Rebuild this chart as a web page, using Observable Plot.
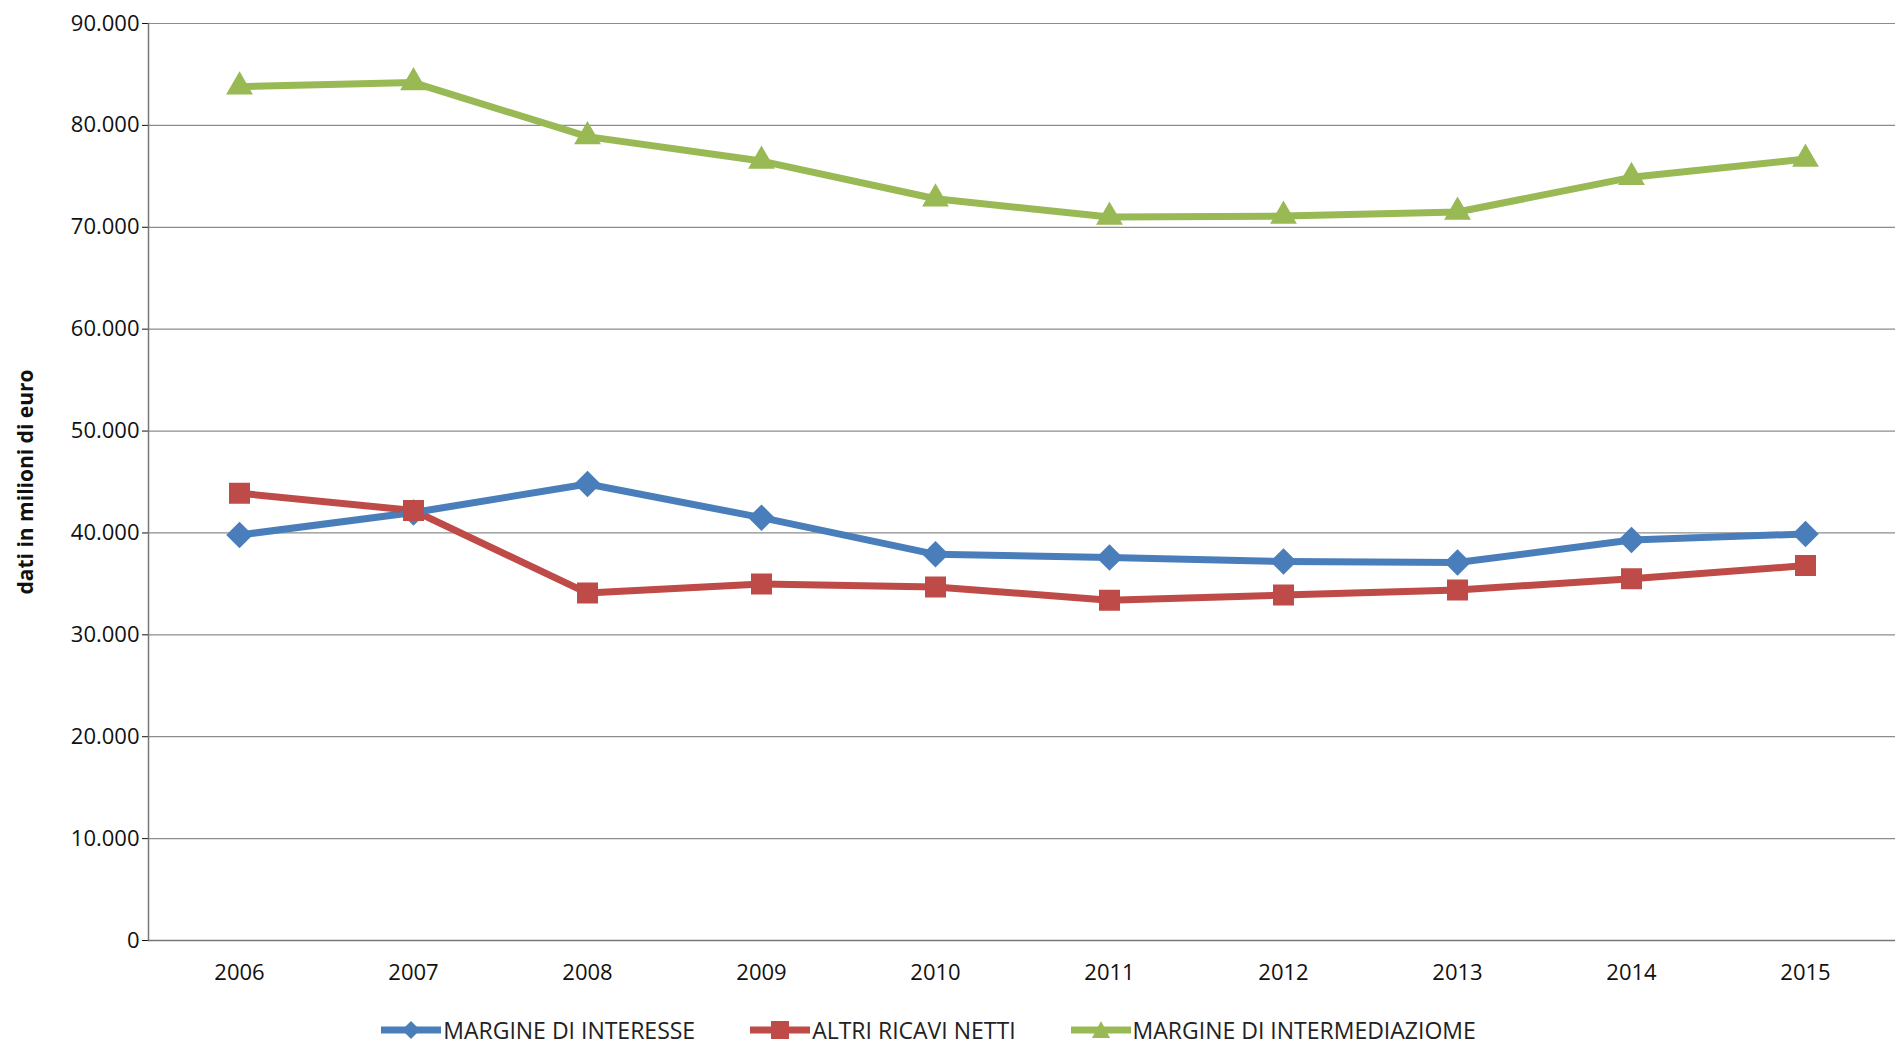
<!DOCTYPE html>
<html><head><meta charset="utf-8">
<script src="https://cdn.jsdelivr.net/npm/d3@7"></script>
<script src="https://cdn.jsdelivr.net/npm/@observablehq/plot@0.6"></script>
<style>
body{margin:0;background:#fff;font-family:"Open Sans",sans-serif;}
#legend{display:flex;justify-content:center;gap:55px;margin-left:-40px;font-size:23px;color:#222;margin-top:14px}
#legend span{display:flex;align-items:center;gap:2px}
</style></head><body>
<div id="chart"></div>
<div id="legend"></div>
<script>
const years = ["2006","2007","2008","2009","2010","2011","2012","2013","2014","2015"];
const margineInteresse = [39800,42000,44800,41500,37900,37600,37200,37100,39300,39900];
const altriRicavi = [43900,42200,34100,35000,34700,33400,33900,34400,35500,36800];
const margineIntermediazione = [83800,84200,78900,76500,72800,71000,71100,71500,74900,76700];
const seriesNames = ["MARGINE DI INTERESSE","ALTRI RICAVI NETTI","MARGINE DI INTERMEDIAZIOME"];
const colors = ["#4a7ebb","#be4b48","#98b954"];
const symbols = ["diamond2","square","triangle"];
const yTicks = [0,10000,20000,30000,40000,50000,60000,70000,80000,90000];

const all = [margineInteresse, altriRicavi, margineIntermediazione];
const data = [];
all.forEach((s,i)=>s.forEach((v,j)=>data.push({year:years[j],value:v,series:seriesNames[i]})));
const fmt = d3.formatLocale({decimal:",",thousands:".",grouping:[3],currency:["","€"]}).format(",");

const plot = Plot.plot({
  width:1897,height:1000,
  marginLeft:148,marginRight:2,marginTop:23,marginBottom:60,
  style:{fontFamily:"Open Sans",fontSize:"22px",color:"#111"},
  x:{type:"point",domain:years,padding:0.5,label:null},
  y:{domain:[0,90000],label:null},
  marks:[
    Plot.gridY(yTicks,{stroke:"#8c8c8c",strokeOpacity:1,strokeWidth:1.2}),
    Plot.axisY(yTicks,{tickFormat:fmt,fontSize:22,tickSize:6,label:null}),
    Plot.axisX({tickSize:0,fontSize:22,tickPadding:24,label:null}),
    Plot.ruleY([0],{stroke:"#777",strokeWidth:1.5}),
    Plot.frame({anchor:"left",stroke:"#777",strokeWidth:1.5}),
    ...seriesNames.map((n,i)=>Plot.line(data.filter(d=>d.series===n),{x:"year",y:"value",stroke:colors[i],strokeWidth:7})),
    ...seriesNames.map((n,i)=>Plot.dot(data.filter(d=>d.series===n),{x:"year",y:"value",fill:colors[i],stroke:colors[i],symbol:()=>symbols[i],r:i==2?9:11})),
    Plot.text(["dati in milioni di euro"],{frameAnchor:"left",textAnchor:"middle",dx:-122,rotate:-90,fontWeight:"bold",fontSize:21})
  ]
});
document.getElementById("chart").appendChild(plot);
const lg=document.getElementById("legend");
const shapes=['<polygon points="30,3 39,12 30,21 21,12" />','<rect x="21" y="3" width="18" height="18"/>','<polygon points="30,3 39,20 21,20"/>'];
seriesNames.forEach((n,i)=>{
  lg.innerHTML+=`<span><svg width="60" height="24"><line x1="0" x2="60" y1="12" y2="12" stroke="${colors[i]}" stroke-width="7"/><g fill="${colors[i]}">${shapes[i]}</g></svg>${n}</span>`;
});
</script></body></html>
